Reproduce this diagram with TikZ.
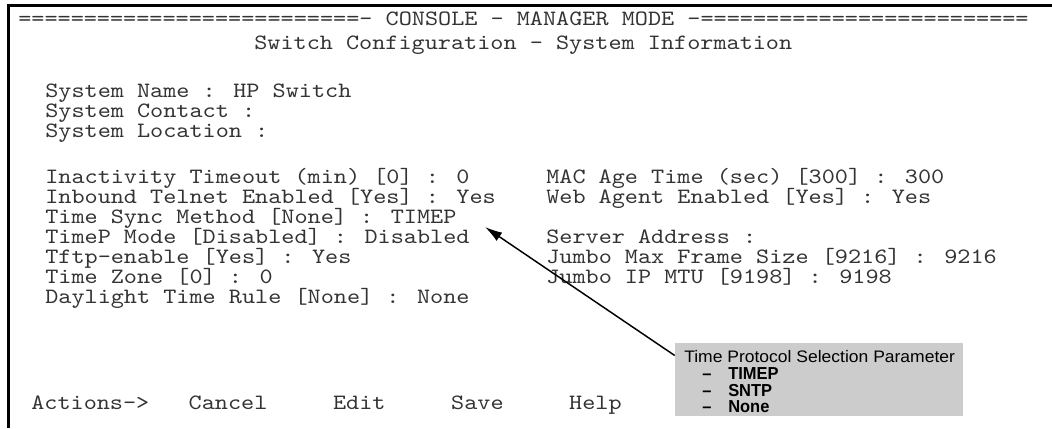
\documentclass[tikz,border=0pt]{standalone}
\usepackage{fontspec}
\usetikzlibrary{arrows.meta}
\newfontfamily\consolefont[Extension=.otf, FakeStretch=1.143]{lmmono10-regular}
\newfontfamily\notefont[FakeStretch=1.05]{Liberation Sans}
\newfontfamily\noteboldfont[FakeStretch=0.95]{Liberation Sans}
\tikzset{
  scrline/.style={anchor=mid west, inner sep=0pt, text=black!80, font=\consolefont\fontsize{16.4}{20}\selectfont},
  notebox/.style={fill=black!20, draw=none, minimum width=216pt, minimum height=54.75pt, inner sep=0pt},
  notehead/.style={anchor=mid west, inner sep=0pt, font=\notefont\fontsize{12.5}{14}\selectfont},
  noteitem/.style={anchor=mid west, inner sep=0pt, font=\noteboldfont\bfseries\fontsize{13}{15}\selectfont},
}
\begin{document}
\begin{tikzpicture}[x=0.75pt,y=-0.75pt]
    \useasboundingbox (0,0) rectangle (1052,428);
    % screen frame
    \draw[line width=2pt] (8.5,428) -- (8.5,5.5) -- (1052,5.5);

    % header
    \node[scrline] (title) at (18,23) {==========================- CONSOLE - MANAGER MODE -=========================};
    \node[scrline] (subtitle) at (254,47) {Switch Configuration - System Information};

    \node[scrline] (sysname) at (45,95) {System Name : HP Switch};
    \node[scrline] (syscontact) at (45,115) {System Contact :};
    \node[scrline] (syslocation) at (45,135) {System Location :};

    % left column
    \node[scrline] (inactivity) at (45,181) {Inactivity Timeout (min) [0] : 0};
    \node[scrline] (telnet) at (45,201) {Inbound Telnet Enabled [Yes] : Yes};
    \node[scrline] (timesync) at (45,221) {Time Sync Method [None] : TIMEP};
    \node[scrline] (timepmode) at (45,241) {TimeP Mode [Disabled] : Disabled};
    \node[scrline] (tftp) at (45,261) {Tftp-enable [Yes] : Yes};
    \node[scrline] (timezone) at (45,281) {Time Zone [0] : 0};
    \node[scrline] (daylight) at (45,301) {Daylight Time Rule [None] : None};

    % right column
    \node[scrline] (macage) at (546,181) {MAC Age Time (sec) [300] : 300};
    \node[scrline] (webagent) at (546,201) {Web Agent Enabled [Yes] : Yes};
    \node[scrline] (server) at (546,241) {Server Address :};
    \node[scrline] (jumboframe) at (546,261) {Jumbo Max Frame Size [9216] : 9216};
    \node[scrline] (jumbomtu) at (546,281) {Jumbo IP MTU [9198] : 9198};

    \node[scrline] (actions) at (31,407) {Actions->~~~Cancel~~~~~Edit~~~~~Save~~~~~Help};

    % callout
    \node[notebox] (callout) at (819,379.5) {};
    \node[notehead] (protohead) at (684,360) {Time Protocol Selection Parameter};
    \node[noteitem] (prototimep) at (702,377) {\makebox[19.5pt][l]{\textendash}TIMEP};
    \node[noteitem] (protosntp) at (702,393.5) {\makebox[19.5pt][l]{\textendash}SNTP};
    \node[noteitem] (protonone) at (702,410) {\makebox[19.5pt][l]{\textendash}None};

    \coordinate (tip) at (485,227);
    \draw[-{Latex[length=13pt,width=7.5pt]}, line width=1.1pt] ([yshift=18pt]callout.west) -- (tip);
\end{tikzpicture}
\end{document}
